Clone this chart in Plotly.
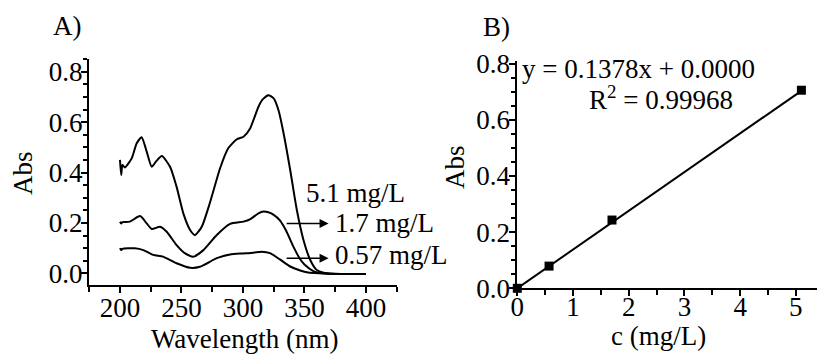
import plotly.graph_objects as go

# ---- Panel A: UV-vis spectra ----
wl_51 = [200, 201, 202, 204, 209.5, 213.6, 217.6, 221.7, 225.8, 229.5, 234, 240.7, 246, 251.5, 257, 261, 266.5, 273, 281.4, 288, 295, 300.4, 305.8, 312.6, 316, 320.7, 325, 329, 333, 338.4, 343.8, 349.2, 354.7, 360, 365.5, 372, 385, 400]
abs_51 = [0.45, 0.39, 0.43, 0.42, 0.456, 0.516, 0.54, 0.483, 0.423, 0.445, 0.465, 0.423, 0.344, 0.238, 0.172, 0.152, 0.185, 0.278, 0.417, 0.496, 0.532, 0.542, 0.575, 0.661, 0.69, 0.707, 0.694, 0.645, 0.556, 0.41, 0.251, 0.132, 0.053, 0.013, 0.002, -0.002, -0.003, -0.003]

wl_17 = [200, 201, 202, 208, 216.3, 221.7, 225.8, 232.6, 238, 246, 253, 259.7, 267.8, 278.7, 289.5, 300.4, 306, 312.6, 316.7, 320, 325, 330, 335, 341, 346, 350, 357.6, 365, 380, 400]
abs_17 = [0.205, 0.198, 0.203, 0.205, 0.227, 0.198, 0.176, 0.185, 0.165, 0.112, 0.079, 0.066, 0.092, 0.152, 0.196, 0.205, 0.215, 0.238, 0.245, 0.243, 0.232, 0.21, 0.17, 0.106, 0.06, 0.035, 0.008, 0.0, -0.003, -0.003]

wl_057 = [200, 201, 202, 212, 219, 227, 235, 246, 257, 265, 278.7, 289.5, 300.4, 308.5, 315.3, 322, 330, 338, 346.5, 353, 362, 380, 400]
abs_057 = [0.1, 0.092, 0.097, 0.099, 0.092, 0.073, 0.066, 0.04, 0.022, 0.026, 0.06, 0.075, 0.079, 0.082, 0.086, 0.08, 0.055, 0.028, 0.011, 0.003, 0.0, -0.003, -0.003]

conc_labels = ["5.1 mg/L", "1.7 mg/L", "0.57 mg/L"]

# ---- Panel B: calibration ----
conc = [0, 0.57, 1.7, 5.1]
absorb = [0.0, 0.079, 0.243, 0.705]
slope = 0.1378
intercept = 0.0
eq_text = "y = 0.1378x + 0.0000"
r2_text = "R<sup>2</sup> = 0.99968"

# axis titles / panel labels
xtitle_a, ytitle_a = "Wavelength (nm)", "Abs"
xtitle_b, ytitle_b = "c (mg/L)", "Abs"
panel_a, panel_b = "A)", "B)"

W, H = 817, 354
FONT = "Liberation Serif, Times New Roman, Times, serif"
FS = 27
FS_T = 27

def px(x):
    return x / W

def py(y):
    return (H - y) / H

fig = go.Figure()
line_style = dict(color="black", width=2, shape="spline", smoothing=0.6)
for wl, ab in [(wl_51, abs_51), (wl_17, abs_17), (wl_057, abs_057)]:
    fig.add_trace(go.Scatter(x=wl, y=ab, mode="lines", line=line_style,
                             xaxis="x", yaxis="y", showlegend=False, hoverinfo="skip"))

fit_x = [0, conc[-1]]
fit_y = [slope * v + intercept for v in fit_x]
fig.add_trace(go.Scatter(x=fit_x, y=fit_y, mode="lines", line=dict(color="black", width=2),
                         xaxis="x2", yaxis="y2", showlegend=False, cliponaxis=False))
fig.add_trace(go.Scatter(x=conc, y=absorb, mode="markers",
                         marker=dict(symbol="square", size=9, color="black"),
                         xaxis="x2", yaxis="y2", showlegend=False, cliponaxis=False))

axis_common = dict(showline=True, linecolor="black", linewidth=2, showgrid=False, zeroline=False,
                   automargin=False,
                   ticks="outside", ticklen=6, tickwidth=2, tickcolor="black",
                   tickfont=dict(family=FONT, size=FS, color="black"))

fig.update_layout(
    template="none",
    width=W, height=H, margin=dict(l=0, r=0, t=0, b=0, autoexpand=False),
    paper_bgcolor="white", plot_bgcolor="white",
    font=dict(family=FONT, size=FS_T, color="black"),
    xaxis=dict(axis_common, domain=[px(89), px(396.7)], range=[174.8, 425], anchor="y",
               tickvals=[200, 250, 300, 350, 400], ticklabelstandoff=-8,
               minor=dict(dtick=25, tick0=0, ticks="outside", ticklen=5, tickwidth=2, tickcolor="black")),
    yaxis=dict(axis_common, domain=[py(285), py(59)], range=[-0.0464, 0.8504], anchor="x",
               tickvals=[0.0, 0.2, 0.4, 0.6, 0.8], tickformat=".1f", ticklabelstandoff=-7,
               minor=dict(dtick=0.05, tick0=0, ticks="outside", ticklen=4, tickwidth=2, tickcolor="black")),
    xaxis2=dict(axis_common, domain=[px(517.3), 1.0], range=[0, 5.38], anchor="y2",
                tickvals=[0, 1, 2, 3, 4, 5], ticklabelstandoff=-13,
                minor=dict(dtick=0.5, tick0=0, ticks="outside", ticklen=5, tickwidth=2, tickcolor="black")),
    yaxis2=dict(axis_common, domain=[py(288.3), py(61)], range=[0, 0.809], anchor="x2",
                tickvals=[0.0, 0.2, 0.4, 0.6, 0.8], tickformat=".1f", ticklabelstandoff=-6,
                minor=dict(dtick=0.05, tick0=0, ticks="outside", ticklen=4, tickwidth=2, tickcolor="black")),
)

ann = []
def label(text, x, y, xanchor="left", **kw):
    ann.append(dict(x=px(x), y=py(y), xref="paper", yref="paper", text=text, showarrow=False,
                    xanchor=xanchor, yanchor="middle", **kw))

# panel labels
label(panel_a, 51, 26)
label(panel_b, 481, 27)
# axis titles
label(xtitle_a, 245, 339, xanchor="center")
label(ytitle_a, 23, 173, xanchor="center", textangle=-90)
label(xtitle_b, 658, 336, xanchor="center")
label(ytitle_b, 455, 167, xanchor="center", textangle=-90)
# concentration labels
label(conc_labels[0], 304, 193.3)
label(conc_labels[1], 333, 223.3)
label(conc_labels[2], 333, 255)
# arrows
for yv in [0.198, 0.06]:
    ann.append(dict(x=369.6, y=yv, ax=334.3, ay=yv, xref="x", yref="y", axref="x", ayref="y",
                    text="", showarrow=True, arrowhead=2, arrowsize=1.2, arrowwidth=1.5,
                    arrowcolor="black"))
# equation
label(eq_text, 519.5, 69)
label(r2_text, 587, 97.5)
fig.update_layout(annotations=ann)

fig.write_html("out.html")
